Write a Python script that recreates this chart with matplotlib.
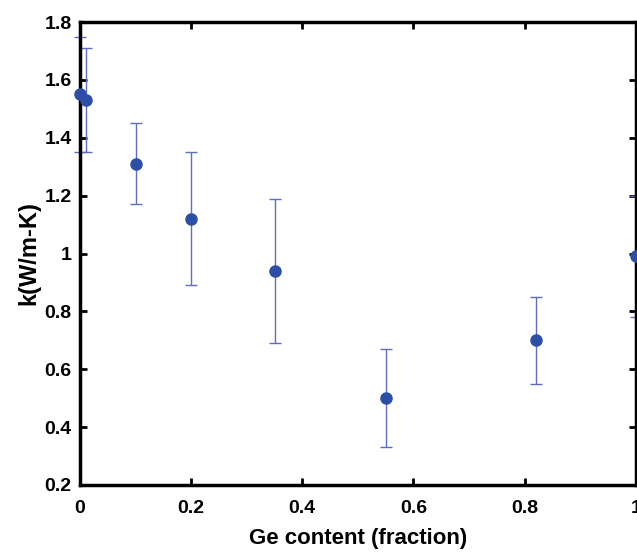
import matplotlib
matplotlib.use('Agg')
import matplotlib.pyplot as plt
import numpy as np

ge = [0.0, 0.01, 0.10, 0.20, 0.35, 0.55, 0.82, 1.0]
k = [1.55, 1.53, 1.31, 1.12, 0.94, 0.50, 0.70, 0.99]
k_err = [0.20, 0.18, 0.14, 0.23, 0.25, 0.17, 0.15, 0.21]

plt.rcParams['font.family'] = ['Liberation Sans', 'DejaVu Sans']
plt.rcParams['font.weight'] = 'bold'

fig = plt.figure(figsize=(6.37, 5.52), dpi=100)
ax = fig.add_axes([0.1256, 0.1214, 0.8724, 0.8386])
ax.errorbar(ge, k, yerr=k_err, fmt='none', ecolor='#5b70c4', elinewidth=1.0,
            capsize=4, capthick=1.0, clip_on=False, zorder=2)
ax.plot(ge, k, 'o', color='#2d4ea6', markersize=8, clip_on=False, zorder=3)

ax.set_xlim(0, 1)
ax.set_ylim(0.2, 1.8)
ax.set_xticks(np.arange(0, 1.01, 0.2))
ax.set_xticklabels(['0', '0.2', '0.4', '0.6', '0.8', '1'])
ax.set_yticks(np.arange(0.2, 1.81, 0.2))
ax.set_yticklabels(['0.2', '0.4', '0.6', '0.8', '1', '1.2', '1.4', '1.6', '1.8'])
ax.tick_params(direction='in', length=5, width=2, labelsize=14, top=True, right=True)
ax.tick_params(axis='x', pad=11)
ax.tick_params(axis='y', pad=6)
for s in ax.spines.values():
    s.set_linewidth(2.5)
ax.set_xlabel('Ge content (fraction)', fontsize=16, fontweight='bold', labelpad=8)
ax.set_ylabel('k(W/m-K)', fontsize=17, fontweight='bold', labelpad=3)

plt.savefig('out.png', dpi=100)
